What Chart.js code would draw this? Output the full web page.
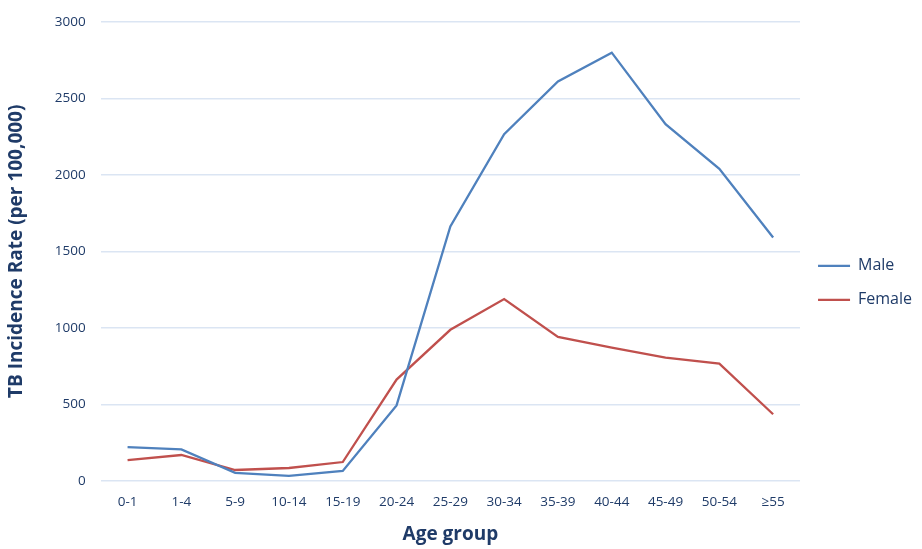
<!DOCTYPE html>
<html>
<head>
<meta charset="utf-8">
<script src="https://cdn.jsdelivr.net/npm/chart.js@4.4.1/dist/chart.umd.min.js"></script>
<style>
  html, body { margin: 0; padding: 0; background: #fff; }
  #wrap { width: 922px; height: 549px; position: relative; }
</style>
</head>
<body>
<div id="wrap"><canvas id="tbChart"></canvas></div>
<script>
const ageGroups = ["0-1", "1-4", "5-9", "10-14", "15-19", "20-24", "25-29", "30-34", "35-39", "40-44", "45-49", "50-54", "≥55"];
const maleRates = [221, 206, 52, 32, 65, 493, 1662, 2265, 2610, 2798, 2331, 2039, 1590];
const femaleRates = [136, 169, 71, 84, 123, 662, 987, 1188, 941, 870, 805, 766, 435];
const yTicks = [0, 500, 1000, 1500, 2000, 2500, 3000];

const textColor = "#1f3b68";
const gridColor = "#dbe5f3";
const font = "'Open Sans', 'Liberation Sans', sans-serif";

new Chart(document.getElementById("tbChart"), {
  type: "line",
  data: {
    labels: ageGroups,
    datasets: [
      {
        label: "Male",
        data: maleRates,
        borderColor: "#4f81bd",
        backgroundColor: "#4f81bd",
        borderWidth: 2.3,
        pointRadius: 0,
        tension: 0
      },
      {
        label: "Female",
        data: femaleRates,
        borderColor: "#c0504d",
        backgroundColor: "#c0504d",
        borderWidth: 2.3,
        pointRadius: 0,
        tension: 0
      }
    ]
  },
  options: {
    responsive: true,
    maintainAspectRatio: false,
    animation: false,
    layout: { padding: { top: 0, right: 0, bottom: 0, left: 1 } },
    plugins: {
      tooltip: { enabled: false },
      legend: {
        position: "right",
        // empty title only nudges the items down a little
        title: { display: true, text: " ", font: { size: 14 }, padding: 0 },
        labels: {
          usePointStyle: true,
          pointStyle: "line",
          pointStyleWidth: 32,
          color: textColor,
          font: { family: font, size: 16 },
          padding: 18
        }
      }
    },
    scales: {
      x: {
        offset: true,
        grid: { display: false, drawTicks: false },
        border: { display: false },
        ticks: { color: textColor, font: { family: font, size: 13.5 }, padding: 13, maxRotation: 0, autoSkip: false },
        title: {
          display: true,
          text: "Age group",
          color: textColor,
          font: { family: font, size: 19, weight: "bold", lineHeight: 1.05 },
          padding: { top: 2 }
        }
      },
      y: {
        min: 0,
        max: 3000,
        afterBuildTicks: (axis) => { axis.ticks = yTicks.map((v) => ({ value: v })); },
        grid: { color: gridColor, lineWidth: 1.5, drawTicks: false },
        border: { display: false },
        ticks: { color: textColor, font: { family: font, size: 13.5, lineHeight: 1 }, padding: 15, callback: (v) => String(v) },
        title: {
          display: true,
          text: "TB Incidence Rate (per 100,000)",
          color: textColor,
          font: { family: font, size: 19, weight: "bold" },
          padding: { bottom: 12 }
        }
      }
    }
  }
});
</script>
</body>
</html>
